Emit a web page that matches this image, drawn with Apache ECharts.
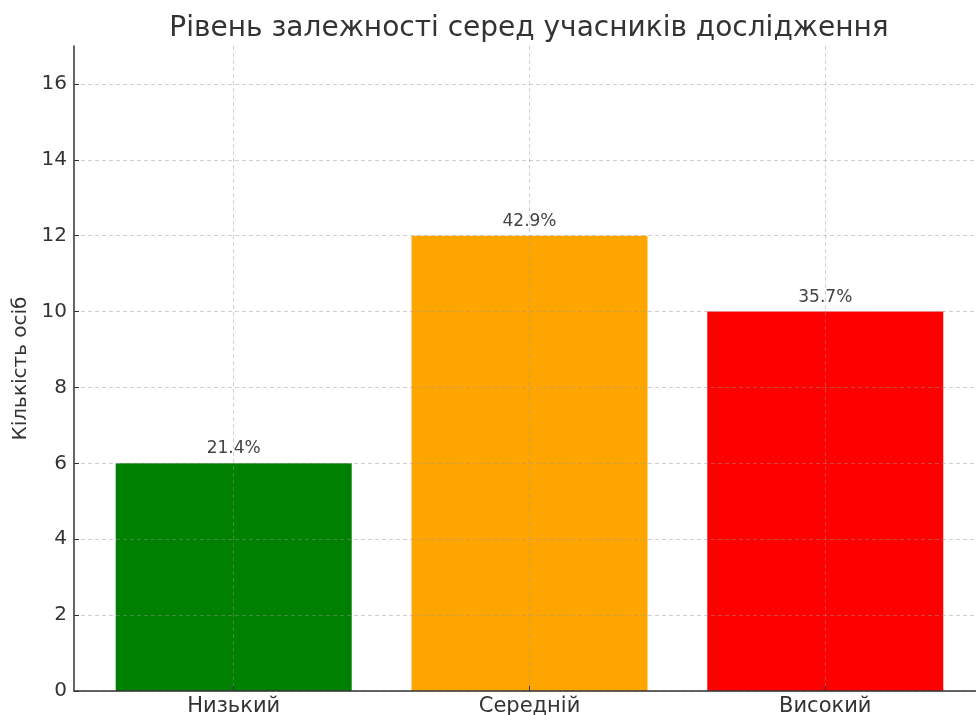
<!DOCTYPE html>
<html>
<head>
<meta charset="utf-8">
<script src="https://cdn.jsdelivr.net/npm/echarts@6/dist/echarts.min.js"></script>
<style>
  html, body { margin: 0; padding: 0; background: #fff; }
  #chart { width: 976px; height: 715px; }
</style>
</head>
<body>
<div id="chart"></div>
<script>
var categories = ['Низький', 'Середній', 'Високий'];
var counts = [6, 12, 10];
var percentLabels = ['21.4%', '42.9%', '35.7%'];
var barColors = ['#008000', '#FFA500', '#FF0000'];
var yTicks = [0, 2, 4, 6, 8, 10, 12, 14, 16];

var font = 'DejaVu Sans';
var gridLine = {show: true, lineStyle: {color: 'rgba(150,150,150,0.45)', type: [4, 3], width: 1}};

var chart = echarts.init(document.getElementById('chart'), null, {renderer: 'canvas'});

var barData = counts.map(function (v, i) {
    return {
        value: [i, v],
        itemStyle: {color: barColors[i]},
        label: {formatter: percentLabels[i]}
    };
});

chart.setOption({
    animation: false,
    title: {
        text: 'Рівень залежності серед учасників дослідження',
        left: 524,
        textAlign: 'center',
        top: 10,
        textStyle: {fontFamily: font, fontSize: 28, fontWeight: 'normal', color: '#333'}
    },
    grid: {left: 74, right: -9, top: 46, bottom: 24, containLabel: false, outerBoundsMode: 'none'},
    xAxis: {
        type: 'value',
        min: -0.54,
        max: 2.54,
        z: 5,
        axisLine: {show: true, onZero: false, lineStyle: {color: '#333', width: 1.5}},
        axisTick: {show: true, inside: true, customValues: [0, 1, 2], length: 5, lineStyle: {color: '#333'}},
        axisLabel: {
            customValues: [0, 1, 2],
            formatter: function (v) { return categories[Math.round(v)]; },
            fontFamily: font, fontSize: 21, color: '#333', margin: 5
        },
        splitLine: gridLine
    },
    yAxis: {
        type: 'value',
        min: 0,
        max: 17,
        z: 5,
        name: 'Кількість осіб',
        nameLocation: 'middle',
        nameGap: 41,
        nameTextStyle: {fontFamily: font, fontSize: 20, color: '#333'},
        axisLine: {show: true, onZero: false, lineStyle: {color: '#333', width: 1.5}},
        axisTick: {show: true, inside: true, customValues: yTicks, length: 5, lineStyle: {color: '#333'}},
        axisLabel: {customValues: yTicks, fontFamily: font, fontSize: 20, color: '#333', margin: 7},
        splitLine: gridLine
    },
    series: [{
        type: 'bar',
        data: barData,
        barWidth: 236,
        label: {
            show: true,
            position: 'top',
            distance: 6,
            fontFamily: font,
            fontSize: 17,
            color: '#444'
        },
        z: 1
    }]
});
</script>
</body>
</html>
